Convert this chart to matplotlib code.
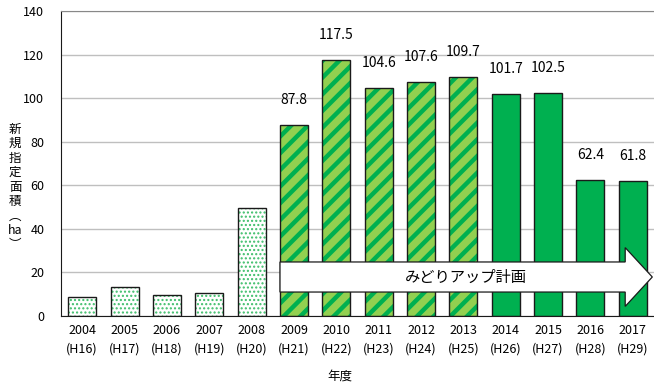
import numpy as np
import matplotlib.pyplot as plt
from matplotlib.patches import FancyArrow

plt.rcParams['font.family'] = ['Noto Sans CJK JP', 'DejaVu Sans']

years = ["2004", "2005", "2006", "2007", "2008", "2009", "2010",
         "2011", "2012", "2013", "2014", "2015", "2016", "2017"]
heisei = ["H16", "H17", "H18", "H19", "H20", "H21", "H22",
          "H23", "H24", "H25", "H26", "H27", "H28", "H29"]
area = [8.9, 13.3, 9.6, 10.4, 49.7, 87.8, 117.5,
        104.6, 107.6, 109.7, 101.7, 102.5, 62.4, 61.8]
# 0: before the plan, 1: first plan period, 2: second plan period
period = [0, 0, 0, 0, 0, 1, 1, 1, 1, 1, 2, 2, 2, 2]
labelled = [False] * 5 + [True] * 9

GREEN = "#00B050"
LIGHT = "#92D050"
DOTS = "#3DBE6A"
W = 0.66

fig = plt.figure(figsize=(6.54, 3.83), dpi=100)
ax = fig.add_axes([61 / 654, 67 / 383, 593 / 654, 305 / 383])

x = np.arange(len(years))
v = np.array(area)
p = np.array(period)

# dotted bars
m = p == 0
plt.rcParams['hatch.linewidth'] = 1.0
b = ax.bar(x[m], v[m], W, color="white", edgecolor=DOTS, hatch="....", lw=0, zorder=2)
for r in b:
    if hasattr(r, "set_hatch_linewidth"):
        r.set_hatch_linewidth(1.0)

# striped bars
m = p == 1
ax.bar(x[m], v[m], W, color=LIGHT, lw=0, zorder=2)
plt.rcParams['hatch.linewidth'] = 3.2
b = ax.bar(x[m], v[m], W, color="none", edgecolor=GREEN, hatch="//", lw=0, zorder=2)
for r in b:
    if hasattr(r, "set_hatch_linewidth"):
        r.set_hatch_linewidth(3.2)

# solid bars
m = p == 2
ax.bar(x[m], v[m], W, color=GREEN, lw=0, zorder=2)

# outlines
ax.bar(x, v, W, color="none", edgecolor="#1a1a1a", lw=1.0, zorder=3)

for xi, vi, show in zip(x, area, labelled):
    if show:
        ax.annotate(f"{vi:.1f}", (xi, vi), xytext=(0, 18), textcoords="offset points",
                    ha="center", va="center", fontsize=10)

# plan arrow
x0 = x[5] - W / 2
x1 = x[-1] + 0.46
arr = FancyArrow(x0, 17.9, x1 - x0, 0, width=13.8, head_width=27, head_length=0.64,
                 length_includes_head=True, facecolor="white", edgecolor="#1a1a1a",
                 lw=0.9, zorder=4)
ax.add_patch(arr)
ax.text((x0 + x1) / 2, 17.9, "みどりアップ計画", ha="center", va="center",
        fontsize=11, zorder=5)

ax.set_xlim(-0.5, 13.5)
ax.set_ylim(0, 140)
ax.set_yticks(np.arange(0, 141, 20))
ax.set_xticks(x)
ax.set_xticklabels([f"{y}\n({h})" for y, h in zip(years, heisei)], fontsize=9, linespacing=1.5)
ax.tick_params(axis="both", length=0, labelsize=9)
ax.tick_params(axis="y", pad=12)
ax.tick_params(axis="x", pad=6)
ax.grid(axis="y", color="#BFBFBF", lw=1, zorder=0)
ax.set_axisbelow(True)
ax.spines["top"].set_color("#888888")
ax.spines["right"].set_visible(False)
ax.spines["left"].set_color("#1a1a1a")
ax.spines["bottom"].set_color("#1a1a1a")

fig.text(340 / 654, 1 - 376 / 383, "年度", ha="center", va="center", fontsize=9)
fig.text(15 / 654, 1 - 187 / 383, "新\n規\n指\n定\n面\n積\n︵\nha\n︶", ha="center",
         va="center", fontsize=9, linespacing=1.15)

fig.savefig("out.png", dpi=100)
